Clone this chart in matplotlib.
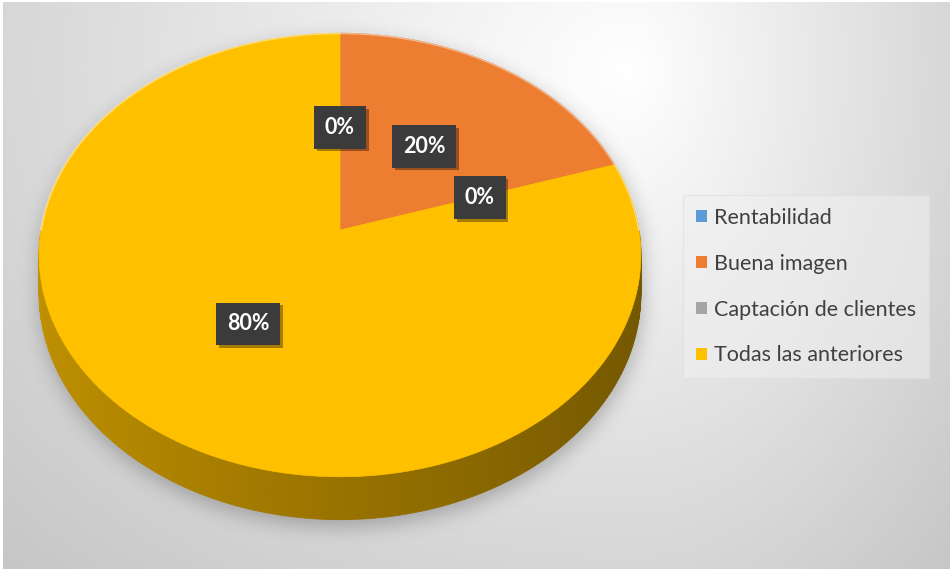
import numpy as np
import matplotlib
matplotlib.use("Agg")
import matplotlib.pyplot as plt
from matplotlib.patches import Polygon, Patch
from matplotlib.path import Path
from matplotlib import patheffects as pe

# ---- data -------------------------------------------------------------
categories = ["Rentabilidad", "Buena imagen", "Captación de clientes", "Todas las anteriores"]
values = [0, 20, 0, 80]
colors = ["#5B9BD5", "#ED7D31", "#A5A5A5", "#FFC000"]

# ---- canvas -----------------------------------------------------------
W, H = 953, 577
fig = plt.figure(figsize=(W / 100, H / 100), dpi=100)
fig.patch.set_facecolor("white")
ax = fig.add_axes([0, 0, 1, 1])
ax.set_xlim(0, W)
ax.set_ylim(H, 0)
ax.axis("off")

# chart area with a soft light-grey radial gradient
cx0, cy0, cx1, cy1 = 3, 2, 950, 569
yy, xx = np.mgrid[cy0:cy1, cx0:cx1].astype(float)
gcx, gcy = 630.0, 70.0
sx = np.where(xx > gcx, 330.0, 640.0)
dist = np.hypot((xx - gcx) / sx, (yy - gcy) / 500.0)
shade = 1.0 - 0.16 * np.clip(dist, 0, 1.6)
bg = np.dstack([shade, shade, shade])
ax.imshow(bg, extent=(cx0, cx1, cy1, cy0), zorder=0, interpolation="bilinear")

# ---- 3D pie geometry (perspective projection of a tilted disc) ---------
cx, cy = 340.0, 230.0      # projected centre of the top face
rx, ry = 299.0, 219.0      # horizontal / depth scale
persp = 0.1126             # perspective strength
depth = 38.0               # thickness of the pie


def project(u, v, z=0.0):
    s = 1.0 / (1.0 + persp * v)
    return cx + rx * u * s, cy + (-ry * v + depth * z) * s


total = float(sum(values))
fracs = [v / total for v in values]
edges = 90.0 - 360.0 * np.concatenate([[0.0], np.cumsum(fracs)])

# shadow under the pie
phi = np.radians(np.linspace(0, 360, 721))
gy, gx = np.mgrid[0:H, 0:W]
grid = np.column_stack([gx.ravel() + 0.5, gy.ravel() + 0.5])
mask = np.zeros(H * W, dtype=bool)
for z in np.linspace(0, 1, 12):
    px, py = project(np.cos(phi), np.sin(phi), z)
    mask |= Path(np.column_stack([px, py])).contains_points(grid)
mask = mask.reshape(H, W).astype(float)


def box_blur(a, r):
    k = 2 * r + 1
    p = np.pad(a, ((0, 0), (r + 1, r)), mode="edge")
    c = np.cumsum(p, axis=1)
    a = (c[:, k:] - c[:, :-k]) / k
    p = np.pad(a, ((r + 1, r), (0, 0)), mode="edge")
    c = np.cumsum(p, axis=0)
    return (c[k:, :] - c[:-k, :]) / k


sh = mask.copy()
for _ in range(3):
    sh = box_blur(sh, 9)
sh = np.roll(np.roll(sh, 7, axis=0), 1, axis=1)
shadow = np.zeros((H, W, 4))
shadow[..., :3] = 0.25
shadow[..., 3] = 0.35 * sh
ax.imshow(shadow, extent=(0, W, H, 0), zorder=1, interpolation="bilinear")

# side wall, shaded by angle
seg = np.linspace(0, 360, 361)
quads = []
for a0, a1 in zip(seg[:-1], seg[1:]):
    am = (a0 + a1) / 2
    col = colors[-1]
    for i in range(len(values)):
        hi, lo = edges[i], edges[i + 1]
        if values[i] > 0 and ((am - lo) % 360) <= (hi - lo):
            col = colors[i]
            break
    ang = np.radians([a0, a1])
    u, v = np.cos(ang), np.sin(ang)
    tx, ty = project(u, v, 0)
    bx, by = project(u, v, 1)
    f = 0.6 - 0.15 * np.cos(np.radians(am))
    rgb = np.array(matplotlib.colors.to_rgb(col)) * f
    quads.append((np.sin(np.radians(am)),
                  [(tx[0], ty[0]), (tx[1], ty[1]), (bx[1], by[1]), (bx[0], by[0])], rgb))
quads.sort(key=lambda q: -q[0])
for _, pts, rgb in quads:
    ax.add_patch(Polygon(pts, closed=True, facecolor=rgb, edgecolor=rgb,
                         linewidth=0.6, zorder=2))

# top face
for i, val in enumerate(values):
    if val <= 0:
        continue
    a = np.radians(np.linspace(edges[i], edges[i + 1], 200))
    px, py = project(np.cos(a), np.sin(a))
    pts = np.vstack([[cx, cy], np.column_stack([px, py])])
    ax.add_patch(Polygon(pts, closed=True, facecolor=colors[i], edgecolor=colors[i],
                         linewidth=0.5, zorder=3))

# faint light rim on the far edge
a = np.radians(np.linspace(0, 180, 200))
px, py = project(np.cos(a), np.sin(a))
ax.plot(px, py, color="white", alpha=0.45, lw=1.6, zorder=3.5)

# percentage labels
for i, val in enumerate(values):
    mid = np.radians((edges[i] + edges[i + 1]) / 2)
    lx, ly = project(0.5 * np.cos(mid), 0.5 * np.sin(mid))
    txt = ax.text(lx, ly + 1, f"{val / total * 100:.0f}%", ha="center", va="center",
                  color="white", fontsize=15.5, fontweight="bold", family="Lato",
                  zorder=5,
                  bbox=dict(boxstyle="square,pad=0.5", facecolor="#3b3b3b",
                            edgecolor="none"))
    txt.get_bbox_patch().set_path_effects(
        [pe.SimplePatchShadow(offset=(2, -2), shadow_rgbFace="black", alpha=0.35),
         pe.Normal()])

# legend
handles = [Patch(facecolor=c, edgecolor="none", label=n) for n, c in zip(categories, colors)]
leg = ax.legend(handles=handles, loc="upper left",
                bbox_to_anchor=(683 / W, 1 - 195 / H), bbox_transform=fig.transFigure,
                frameon=True, fancybox=False, facecolor="#f0f0f0", edgecolor="#dedede",
                framealpha=0.55, prop={"family": "Lato", "size": 15.5},
                labelcolor="#404040", handlelength=0.5, handleheight=0.5,
                handletextpad=0.35, labelspacing=1.2, borderpad=0.6,
                borderaxespad=0)
leg.set_zorder(6)

fig.savefig("out.png", dpi=100)
